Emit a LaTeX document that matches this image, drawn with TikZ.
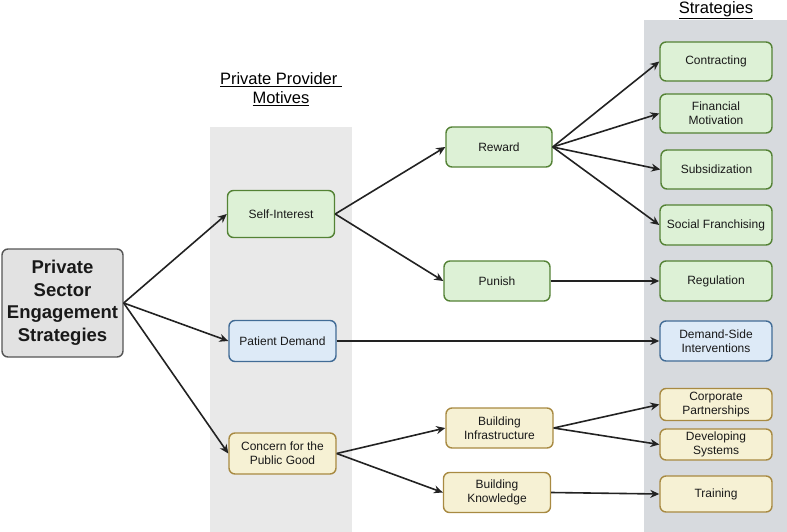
\documentclass[tikz,border=0pt]{standalone}
\usepackage{fontspec}
\setmainfont{Liberation Sans}
\usetikzlibrary{arrows.meta}
\usetikzlibrary{positioning}

\definecolor{greenfill}{RGB}{221,241,214}
\definecolor{greenline}{RGB}{84,130,53}
\definecolor{bluefill}{RGB}{221,234,247}
\definecolor{blueline}{RGB}{66,108,150}
\definecolor{yellowfill}{RGB}{246,241,212}
\definecolor{yellowline}{RGB}{168,138,66}
\definecolor{mainfill}{RGB}{226,226,226}
\definecolor{mainline}{RGB}{85,85,85}
\definecolor{motivecol}{RGB}{233,233,233}
\definecolor{stratcol}{RGB}{215,218,222}
\definecolor{arrowcol}{RGB}{34,34,34}

\begin{document}
\begin{tikzpicture}[x=1pt, y=-1pt,
    box/.style={draw, rounded corners=6pt, line width=1.4pt, align=center, inner sep=0pt,
                text=black!90, font=\fontsize{12}{14}\selectfont},
    greenbox/.style={box, draw=greenline, fill=greenfill},
    bluebox/.style={box, draw=blueline, fill=bluefill},
    yellowbox/.style={box, draw=yellowline, fill=yellowfill},
    motive/.style={minimum width=107pt, minimum height=41pt},
    middle/.style={minimum width=106pt, minimum height=40pt},
    strat/.style={minimum width=112pt, minimum height=39pt},
    heading/.style={align=center, font=\fontsize{16.5}{19.5}\selectfont},
    arr/.style={-{Stealth[length=9pt, width=8pt]}, line width=1.6pt, draw=arrowcol}]
        \useasboundingbox (0,0) rectangle (787,532);
        % columns
        \fill [motivecol] (210,127) rectangle (352,532);
        \fill [stratcol] (644,20) rectangle (787,532);
        % headings
        \node [heading] (motivehead) at (281,89) {\underline{Private Provider\ }\\\underline{Motives}};
        \node [heading, anchor=base] (strathead) at (716,13.5) {\underline{Strategies}};
        % root
        \node [box, draw=mainline, fill=mainfill, minimum width=121pt, minimum height=108pt,
               font=\fontsize{18.5}{22.5}\selectfont\bfseries] (root) at (62.5,303)
               {Private\\Sector\\Engagement\\Strategies};
        % motives
        \node [greenbox, motive, minimum height=47pt] (self) at (281,214) {Self-Interest};
        \node [bluebox, motive] (patient) at (282.5,341) {Patient Demand};
        \node [yellowbox, motive] (concern) at (282.5,453.5) {Concern for the\\Public Good};
        % middle
        \node [greenbox, middle] (reward) at (499,147) {Reward};
        \node [greenbox, middle] (punish) at (497,281) {Punish};
        \node [yellowbox, middle, minimum width=107pt] (infra) at (499.5,428) {Building\\Infrastructure};
        \node [yellowbox, middle, minimum width=107pt] (knowledge) at (497,492.5) {Building\\Knowledge};
        % strategies
        \node [greenbox, strat] (contract) at (716,61.5) {Contracting};
        \node [greenbox, strat] (finance) at (716,113.5) {Financial\\Motivation};
        \node [greenbox, strat, minimum width=111pt] (subsid) at (716.5,169.5) {Subsidization};
        \node [greenbox, strat, minimum height=40pt] (franchise) at (716,225) {Social Franchising};
        \node [greenbox, strat, minimum height=40pt] (regulate) at (716,281) {Regulation};
        \node [bluebox, strat, minimum height=40pt] (demandside) at (716,341) {Demand-Side\\Interventions};
        \node [yellowbox, strat, minimum height=32pt] (corporate) at (716,404.5) {Corporate\\Partnerships};
        \node [yellowbox, strat, minimum height=31pt] (develop) at (716,444.5) {Developing\\Systems};
        \node [yellowbox, strat, minimum height=36pt] (training) at (716,494) {Training};
        % connectors
        \draw [arr] (root.east) -- (self.west);
        \draw [arr] (root.east) -- (patient.west);
        \draw [arr] (root.east) -- (concern.west);
        \draw [arr] (self.east) -- (reward.west);
        \draw [arr] (self.east) -- (punish.west);
        \draw [arr] (reward.east) -- (contract.west);
        \draw [arr] (reward.east) -- (finance.west);
        \draw [arr] (reward.east) -- (subsid.west);
        \draw [arr] (reward.east) -- (franchise.west);
        \draw [arr] (punish.east) -- (regulate.west);
        \draw [arr] (patient.east) -- (demandside.west);
        \draw [arr] (concern.east) -- (infra.west);
        \draw [arr] (concern.east) -- (knowledge.west);
        \draw [arr] (infra.east) -- (corporate.west);
        \draw [arr] (infra.east) -- (develop.west);
        \draw [arr] (knowledge.east) -- (training.west);
      \end{tikzpicture}
\end{document}
